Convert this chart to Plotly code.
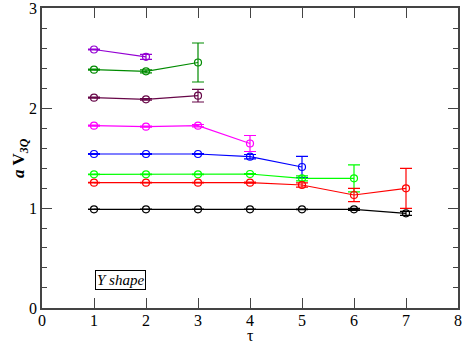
import plotly.graph_objects as go

# tau values and a*V_3Q per series
tau_violet = [1, 2]
v_violet = [2.585, 2.512]
e_violet = [0.005, 0.025]

tau_green4 = [1, 2, 3]
v_green4 = [2.383, 2.367, 2.455]
e_green4 = [0.005, 0.015, 0.195]

tau_maroon = [1, 2, 3]
v_maroon = [2.103, 2.087, 2.123]
e_maroon = [0.005, 0.008, 0.063]

tau_magenta = [1, 2, 3, 4]
v_magenta = [1.823, 1.813, 1.823, 1.645]
e_magenta = [0.005, 0.005, 0.012, 0.08]

tau_blue = [1, 2, 3, 4, 5]
v_blue = [1.54, 1.54, 1.54, 1.513, 1.41]
e_blue = [0.004, 0.004, 0.005, 0.022, 0.107]

tau_green = [1, 2, 3, 4, 5, 6]
v_green = [1.337, 1.337, 1.337, 1.34, 1.297, 1.297]
e_green = [0.003, 0.003, 0.003, 0.005, 0.025, 0.135]

tau_red = [1, 2, 3, 4, 5, 6, 7]
v_red = [1.253, 1.253, 1.253, 1.253, 1.23, 1.13, 1.197]
e_red = [0.003, 0.003, 0.003, 0.005, 0.022, 0.067, 0.2]

tau_black = [1, 2, 3, 4, 5, 6, 7]
v_black = [0.987, 0.987, 0.987, 0.987, 0.987, 0.987, 0.947]
e_black = [0.002, 0.002, 0.002, 0.002, 0.003, 0.01, 0.02]

x_ticks = [0, 1, 2, 3, 4, 5, 6, 7, 8]
y_ticks = [0, 1, 2, 3]

series = [
    (tau_violet, v_violet, e_violet, 'rgb(148,0,211)'),
    (tau_green4, v_green4, e_green4, 'rgb(0,139,0)'),
    (tau_maroon, v_maroon, e_maroon, 'rgb(103,7,72)'),
    (tau_magenta, v_magenta, e_magenta, 'rgb(255,0,255)'),
    (tau_blue, v_blue, e_blue, 'rgb(0,0,255)'),
    (tau_green, v_green, e_green, 'rgb(0,255,0)'),
    (tau_red, v_red, e_red, 'rgb(255,0,0)'),
    (tau_black, v_black, e_black, 'rgb(0,0,0)'),
]

serif = 'Liberation Serif, DejaVu Serif, serif'

fig = go.Figure()
for x, y, e, col in series:
    fig.add_trace(go.Scatter(
        x=x, y=y, mode='lines+markers',
        line=dict(color=col, width=1.2),
        marker=dict(symbol='circle-open', size=7, color=col, line=dict(width=1.2)),
        error_y=dict(type='data', array=e, visible=True, color=col, thickness=1.2, width=6),
        showlegend=False))

fig.add_annotation(x=1.5, y=0.28, xref='x', yref='y', text='<i>Y shape</i>',
                   showarrow=False, font=dict(family=serif, size=15, color='black'),
                   bordercolor='black', borderwidth=1, borderpad=1, bgcolor='white')

# axis titles placed as annotations for tight positioning
fig.add_annotation(x=0.5, y=-0.093, xref='paper', yref='paper', yanchor='middle', text='τ',
                   showarrow=False, font=dict(family=serif, size=16, color='black'))
fig.add_annotation(x=-0.053, y=0.5, xref='paper', yref='paper', xanchor='center', yanchor='middle',
                   textangle=-90, text='<b><i>a</i> V<sub><i>3Q</i></sub></b>',
                   showarrow=False, font=dict(family=serif, size=17, color='black'))

axis_font = dict(family=serif, size=16, color='black')
fig.update_xaxes(range=[-0.0001, 8.0001], tickvals=x_ticks, ticks='inside', ticklen=10, tickwidth=1.2,
                 tickcolor='#444', showline=True, linecolor='#444', linewidth=1.5, mirror='ticks',
                 showgrid=False, zeroline=False, tickfont=axis_font, ticklabeloverflow='allow',
                 ticklabelstandoff=-3)
fig.update_yaxes(range=[-0.0001, 3.0001], tickvals=y_ticks, ticks='inside', ticklen=10, tickwidth=1.2,
                 tickcolor='#444',
                 minor=dict(dtick=0.2, ticks='inside', ticklen=5, tickcolor='#444', showgrid=False),
                 showline=True, linecolor='#444', linewidth=1.5, mirror='ticks', showgrid=False,
                 zeroline=False, tickfont=axis_font, ticklabeloverflow='allow')
fig.update_layout(width=463, height=344, plot_bgcolor='white', paper_bgcolor='white',
                  margin=dict(l=42, r=5, t=8, b=36, autoexpand=False))

# page body has a default 8px margin; drop it so the figure fills the window
fig.write_html('out.html', config={'displayModeBar': False},
               post_script="document.body.style.margin='0px';")
